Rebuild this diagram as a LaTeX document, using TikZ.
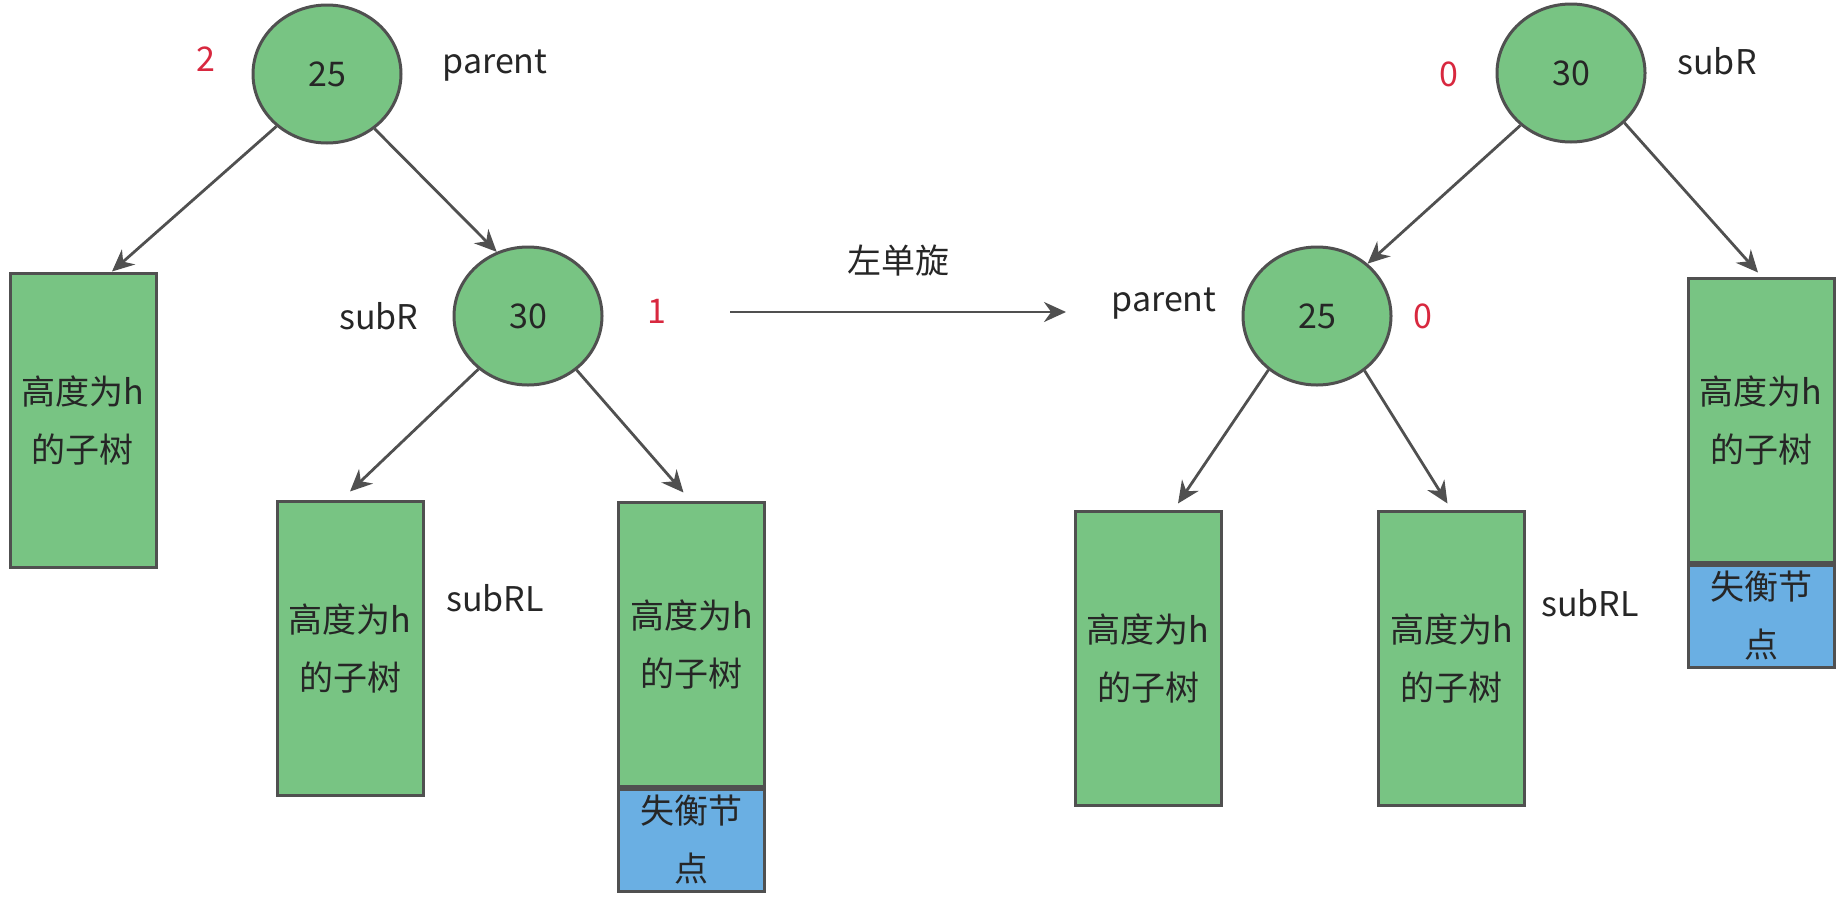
\documentclass[tikz,border=0pt]{standalone}
\usepackage{fontspec}
\setmainfont{Noto Sans CJK SC}
\usetikzlibrary{shapes.geometric, arrows.meta}

\definecolor{treegreen}{HTML}{78C483}
\definecolor{lostblue}{HTML}{6AAFE3}
\definecolor{edgegray}{HTML}{505050}
\definecolor{bfred}{HTML}{D8283F}

\begin{document}
\begin{tikzpicture}[
        x=0.5pt, y=-0.5pt,
        every node/.style={font=\fontsize{17}{29}\selectfont, text=black!85},
        circ/.style={ellipse, draw=edgegray, line width=1.5pt, fill=treegreen, minimum width=74pt, minimum height=69pt, inner sep=0pt},
        subtree/.style={rectangle, draw=edgegray, line width=1.5pt, fill=treegreen, minimum width=73pt, minimum height=147pt, align=center, inner sep=0pt},
        lost/.style={rectangle, draw=edgegray, line width=1.5pt, fill=lostblue, minimum width=73pt, minimum height=51pt, align=center, inner sep=0pt},
        bf/.style={text=bfred},
        arr/.style={draw=edgegray, line width=1.4pt, -{Stealth[length=11pt, width=10pt]}}
    ]
    \useasboundingbox (0,0) rectangle (1847,905);

    % before the rotation
    \node[circ] (parentL) at (327,74) {25};
    \node[bf] (bfParentL) at (206,59) {2};
    \node (nameParentL) at (495,66) {parent};
    \node[circ] (subRL) at (528,316) {30};
    \node (nameSubRL) at (379,316) {subR};
    \node[bf] (bfSubRL) at (657,311) {1};
    \node[subtree] (treeA) at (83,420) {高度为h\\的子树};
    \node[subtree] (treeB) at (350,648) {高度为h\\的子树};
    \node (nameSubRLL) at (495,598) {subRL};
    \node[subtree, minimum height=142pt] (treeC) at (691.5,644) {高度为h\\的子树};
    \node[lost, anchor=north] (lostC) at (treeC.south) {失衡节\\点};

    \draw[arr] (parentL.-134) -- ([xshift=14.5pt]treeA.north);
    \draw[arr] (parentL.-49) -- (subRL.116);
    \draw[arr] (subRL.-133) -- ([yshift=4pt]treeB.north);
    \draw[arr] (subRL.-48) -- ([xshift=-4pt, yshift=4pt]treeC.north);

    % rotation
    \coordinate (rotFrom) at (730,312);
    \coordinate (rotTo) at (1066,312);
    \draw[arr] (rotFrom) -- node[above=14pt] (rotLabel) {左单旋} (rotTo);

    % after the rotation
    \node[circ] (subRR) at (1571,73) {30};
    \node[bf] (bfSubRR) at (1449,74) {0};
    \node (nameSubRR) at (1717,61) {subR};
    \node[circ] (parentR) at (1317,316) {25};
    \node (nameParentR) at (1164,304) {parent};
    \node[bf] (bfParentR) at (1423,316) {0};
    \node[subtree] (treeD) at (1148,658) {高度为h\\的子树};
    \node[subtree] (treeE) at (1451.5,658) {高度为h\\的子树};
    \node (nameSubRLR) at (1590,603) {subRL};
    \node[subtree, minimum height=142pt] (treeF) at (1761,420) {高度为h\\的子树};
    \node[lost, anchor=north] (lostF) at (treeF.south) {失衡节\\点};

    \draw[arr] (subRR.-134) -- (parentR.46);
    \draw[arr] (subRR.-43) -- ([xshift=-1.5pt, yshift=2pt]treeF.north);
    \draw[arr] (parentR.-132) -- ([xshift=15pt, yshift=3pt]treeD.north);
    \draw[arr] (parentR.-49) -- ([xshift=-2pt, yshift=3pt]treeE.north);
\end{tikzpicture}
\end{document}
